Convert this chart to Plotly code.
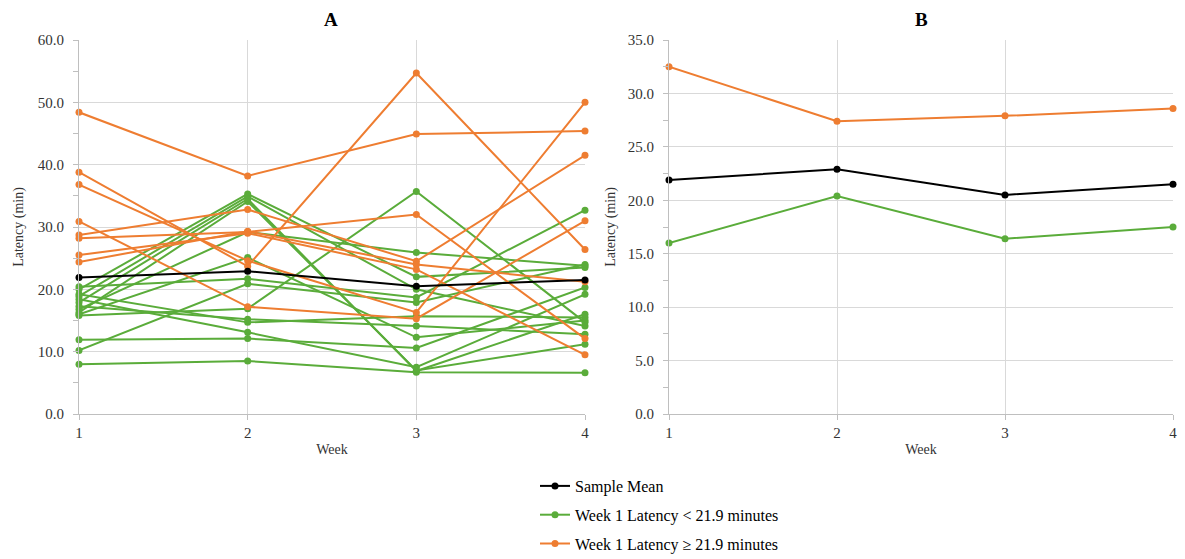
import plotly.graph_objects as go

weeks = [1, 2, 3, 4]

# Panel A: individual subjects
green_lines = [
    [20.4, 21.7, 18.7, 32.7],
    [20.0, 35.3, 22.0, 23.5],
    [19.2, 14.7, 15.7, 15.5],
    [18.9, 34.9, 20.0, 14.1],
    [18.4, 13.1, 7.5, 19.2],
    [17.9, 34.5, 6.9, 16.0],
    [17.3, 15.2, 14.1, 12.8],
    [16.8, 29.2, 25.9, 23.8],
    [16.3, 34.1, 7.0, 11.2],
    [16.0, 25.1, 12.3, 15.0],
    [15.8, 16.9, 35.7, 14.7],
    [11.9, 12.1, 10.6, 20.3],
    [10.2, 20.9, 17.9, 24.0],
    [8.0, 8.5, 6.7, 6.6],
]
orange_lines = [
    [48.4, 38.2, 44.9, 45.4],
    [38.8, 23.7, 54.7, 26.4],
    [36.8, 24.6, 16.3, 50.0],
    [30.9, 17.2, 15.3, 31.0],
    [28.7, 32.8, 24.5, 41.5],
    [28.2, 29.2, 32.0, 12.1],
    [25.5, 29.0, 23.2, 9.5],
    [24.4, 29.3, 24.0, 21.2],
]
sample_mean = [21.9, 22.9, 20.5, 21.5]

# Panel B: group means
mean_low = [16.0, 20.4, 16.4, 17.5]
mean_high = [32.5, 27.4, 27.9, 28.6]

GREEN = "#5aac3a"
ORANGE = "#ee7d31"
BLACK = "#000000"
FONT = "Liberation Serif, Times New Roman, serif"

fig = go.Figure()

for ys in green_lines:
    fig.add_trace(go.Scatter(x=weeks, y=ys, mode="lines+markers", xaxis="x", yaxis="y",
                             line=dict(color=GREEN, width=2), marker=dict(size=7, color=GREEN),
                             showlegend=False, cliponaxis=False))
for ys in orange_lines:
    fig.add_trace(go.Scatter(x=weeks, y=ys, mode="lines+markers", xaxis="x", yaxis="y",
                             line=dict(color=ORANGE, width=2), marker=dict(size=7, color=ORANGE),
                             showlegend=False, cliponaxis=False))
fig.add_trace(go.Scatter(x=weeks, y=sample_mean, mode="lines+markers", xaxis="x", yaxis="y",
                         line=dict(color=BLACK, width=2), marker=dict(size=7, color=BLACK),
                         showlegend=False, cliponaxis=False))

# Panel B
fig.add_trace(go.Scatter(x=weeks, y=sample_mean, mode="lines+markers", xaxis="x2", yaxis="y2",
                         name="Sample Mean", legendgroup="a",
                         line=dict(color=BLACK, width=2), marker=dict(size=7, color=BLACK),
                         cliponaxis=False))
fig.add_trace(go.Scatter(x=weeks, y=mean_low, mode="lines+markers", xaxis="x2", yaxis="y2",
                         name="Week 1 Latency < 21.9 minutes", legendgroup="b",
                         line=dict(color=GREEN, width=2), marker=dict(size=7, color=GREEN),
                         cliponaxis=False))
fig.add_trace(go.Scatter(x=weeks, y=mean_high, mode="lines+markers", xaxis="x2", yaxis="y2",
                         name="Week 1 Latency \u2265 21.9 minutes", legendgroup="c",
                         line=dict(color=ORANGE, width=2), marker=dict(size=7, color=ORANGE),
                         cliponaxis=False))

W, H = 1185, 559
def xd(a, b):
    return [a / W, b / W]
ydom = [(H - 414) / H, (H - 40) / H]

grid = "#d9d9d9"
axline = "#bfbfbf"
tickfont = dict(family=FONT, size=15, color="#333333")
titlefont = dict(family=FONT, size=14, color="#333333")

common_x = dict(range=[1, 4], tickvals=weeks, ticktext=[str(w) for w in weeks],
                showgrid=True, gridcolor=grid, gridwidth=1, showline=True, linecolor=axline,
                ticks="outside", ticklen=5, tickcolor=axline, tickfont=tickfont,
                title=dict(text="Week", font=titlefont, standoff=4), zeroline=False,
                automargin=False)
common_y = dict(showgrid=True, gridcolor=grid, gridwidth=1, showline=True, linecolor=axline,
                ticks="outside", ticklen=5, tickcolor=axline, tickfont=tickfont, tickformat=".1f",
                zeroline=False, ticklabelstandoff=6, automargin=False)

fig.update_layout(
    width=W, height=H,
    margin=dict(l=0, r=0, t=0, b=0, autoexpand=False),
    paper_bgcolor="white", plot_bgcolor="white",
    font=dict(family=FONT, color="#333333"),
    xaxis=dict(domain=xd(79, 585), anchor="y", **common_x),
    yaxis=dict(domain=ydom, anchor="x", range=[0, 60], dtick=10,
               minor=dict(dtick=5, ticks="outside", ticklen=5, tickcolor=axline, showgrid=False),
               title=dict(text="Latency (min)", font=titlefont, standoff=10), **common_y),
    xaxis2=dict(domain=xd(669, 1173), anchor="y2", **common_x),
    yaxis2=dict(domain=ydom, anchor="x2", range=[0, 35], dtick=5,
                minor=dict(dtick=2.5, ticks="outside", ticklen=5, tickcolor=axline, showgrid=False),
                title=dict(text="Latency (min)", font=titlefont, standoff=8), **common_y),
    legend=dict(x=535 / W, xanchor="left", y=(H - 469) / H, yanchor="top",
                font=dict(family=FONT, size=16, color="#000000"), tracegroupgap=5,
                bgcolor="rgba(0,0,0,0)"),
    annotations=[
        dict(text="<b>A</b>", x=331 / W, y=(H - 19) / H, xref="paper", yref="paper",
             xanchor="center", yanchor="middle",
             showarrow=False, font=dict(family=FONT, size=19, color="#000000")),
        dict(text="<b>B</b>", x=921 / W, y=(H - 19) / H, xref="paper", yref="paper",
             xanchor="center", yanchor="middle",
             showarrow=False, font=dict(family=FONT, size=19, color="#000000")),
    ],
)

fig.write_html("out.html")
